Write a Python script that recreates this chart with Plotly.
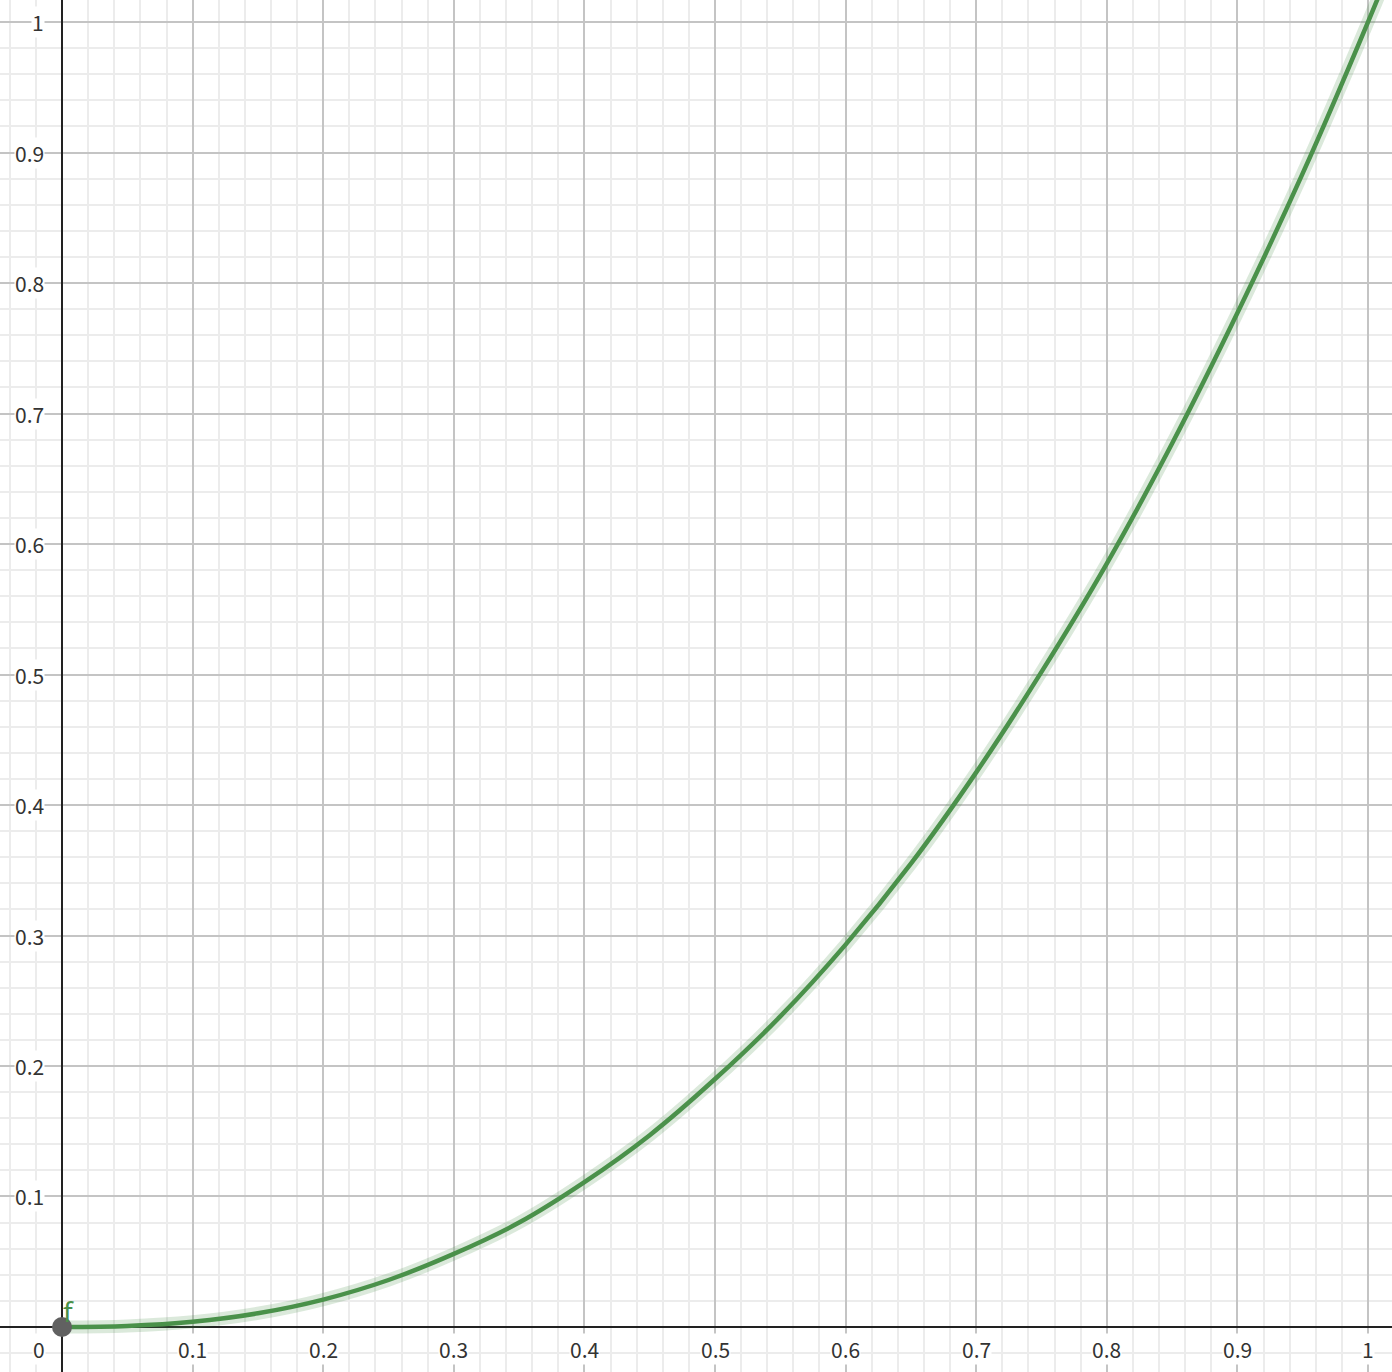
import plotly.graph_objects as go

x_vals = [0, 0.05, 0.1, 0.15, 0.2, 0.25, 0.3, 0.35, 0.4, 0.45, 0.5,
          0.55, 0.6, 0.65, 0.7, 0.75, 0.8, 0.85, 0.9, 0.95, 1.0, 1.02]
y_vals = [0, 0.0008, 0.004, 0.0105, 0.021, 0.036, 0.056, 0.080, 0.111, 0.147, 0.190,
          0.238, 0.293, 0.355, 0.425, 0.502, 0.585, 0.677, 0.777, 0.884, 1.0, 1.049]

x_ticks = [0.1, 0.2, 0.3, 0.4, 0.5, 0.6, 0.7, 0.8, 0.9, 1]
y_ticks = [0.1, 0.2, 0.3, 0.4, 0.5, 0.6, 0.7, 0.8, 0.9, 1]
x_labels = ["0.1", "0.2", "0.3", "0.4", "0.5", "0.6", "0.7", "0.8", "0.9", "1"]
y_labels = ["0.1", "0.2", "0.3", "0.4", "0.5", "0.6", "0.7", "0.8", "0.9", "1"]

green = "#4a914a"
lbl_font = dict(family="Noto Sans CJK JP", size=21, color="#333333")

fig = go.Figure()

# halo behind the curve
fig.add_trace(go.Scatter(x=x_vals, y=y_vals, mode="lines", line_shape="spline",
                         line=dict(color="rgba(74,145,74,0.2)", width=13),
                         hoverinfo="skip", showlegend=False))
fig.add_trace(go.Scatter(x=x_vals, y=y_vals, mode="lines", line_shape="spline",
                         line=dict(color=green, width=4.5), name="f", showlegend=False))
# point at origin
fig.add_trace(go.Scatter(x=[x_vals[0]], y=[y_vals[0]], mode="markers",
                         marker=dict(size=20, color="#616161"),
                         cliponaxis=False, showlegend=False))

for v, t in zip(x_ticks, x_labels):
    fig.add_annotation(x=v, y=-0.0165, text=t, showarrow=False, font=lbl_font,
                       bgcolor="white", xanchor="center", yanchor="middle", borderpad=0)
for v, t in zip(y_ticks, y_labels):
    fig.add_annotation(x=-0.013, y=v, text=t, showarrow=False, font=lbl_font,
                       bgcolor="white", xanchor="right", yanchor="middle", borderpad=0)
fig.add_annotation(x=-0.0125, y=-0.0165, text="0", showarrow=False, font=lbl_font,
                   bgcolor="white", xanchor="right", yanchor="middle", borderpad=0)
fig.add_annotation(x=0.005, y=0.0125, text="f", showarrow=False,
                   font=dict(family="Noto Sans", size=28, color=green))

axis_style = dict(dtick=0.1, tick0=0, showgrid=True, gridcolor="#c4c4c4", gridwidth=1.5,
                  minor=dict(dtick=0.02, tick0=0, showgrid=True, gridcolor="#ececec", gridwidth=1.5),
                  zeroline=True, zerolinecolor="#222222", zerolinewidth=2,
                  showticklabels=False, ticks="", showline=False)

fig.update_xaxes(range=[-0.0475, 1.0184], **axis_style)
fig.update_yaxes(range=[-0.0345, 1.0169], **axis_style)

fig.update_layout(width=1392, height=1372, margin=dict(l=0, r=0, t=0, b=0),
                  plot_bgcolor="white", paper_bgcolor="white", showlegend=False)

# drop the default 8px body margin so the plot fills the window
fig.write_html("out.html", config={"displayModeBar": False},
               post_script="document.body.style.margin='0';")
